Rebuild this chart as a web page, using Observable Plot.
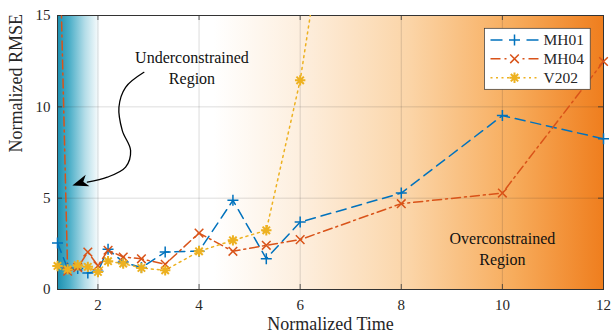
<!DOCTYPE html>
<html><head><meta charset="utf-8">
<script src="https://cdn.jsdelivr.net/npm/d3@7"></script>
<script src="https://cdn.jsdelivr.net/npm/@observablehq/plot@0.6"></script>
<style>
html,body{margin:0;padding:0;background:#fff;}
#chart{width:614px;height:335px;overflow:hidden;}
#chart svg, #chart svg text, #chart svg g { font-family: "Liberation Serif", "DejaVu Serif", serif !important; }
</style></head><body><div id="chart"></div>
<script>
// ---- data ----
const times = [1.2, 1.4, 1.6, 1.8, 2.0, 2.2, 2.5, 2.86, 3.33, 4, 4.67, 5.33, 6, 8, 10, 12];
const seriesNames = ["MH01", "MH04", "V202"];
const mh01 = [2.55, 1.15, 1.15, 0.9, 1.0, 2.2, 1.5, 1.2, 2.05, 2.1, 4.88, 1.69, 3.69, 5.28, 9.52, 8.25];
const mh04 = [24, 1.0, 1.2, 2.05, 1.3, 2.15, 1.78, 1.68, 1.38, 3.09, 2.09, 2.42, 2.73, 4.7, 5.28, 12.48];
const v202 = [1.29, 1.1, 1.33, 1.24, 0.96, 1.55, 1.42, 1.18, 1.05, 2.09, 2.69, 3.24, 11.45, 47];
const xTicks = [2, 4, 6, 8, 10, 12];
const yTicks = [0, 5, 10, 15];
const xDomain = [1.2, 12];
const yDomain = [0, 15];
const underRegion = [{x1: 1.2, x2: 2.05}];
const overRegion = [{x1: 4.3, x2: 12}];
const regionLabels = [
  {x: 3.86, y: 12.2, text: "Underconstrained\nRegion"},
  {x: 10.0, y: 2.3, text: "Overconstrained\nRegion"}
];
const arrowX = [2.909, 2.547, 2.415, 2.482, 2.646, 2.547, 2.186, 1.791];
const arrowY = [11.89, 11.07, 9.98, 8.70, 7.61, 6.70, 6.15, 5.88];
const arrowTip = [{x: 1.494, y: 5.70}];
const xLabel = "Normalized Time";
const yLabel = "Normalized RMSE";

// ---- styles ----
const FONT = "Liberation Serif, DejaVu Serif, serif";
const colors = ["#0072BD", "#D95319", "#EDB120"];
const dashes = ["10,6", "9,4,2,4", "2,4"];
const legendDashes = ["12,24,12", "10,4,2,16,2,4,10", "2,3.5"];
const plusSym = {draw(c) { const r = 5.5; c.moveTo(-r, 0); c.lineTo(r, 0); c.moveTo(0, -r); c.lineTo(0, r); }};
const timesSym = {draw(c) { const r = 4.3; c.moveTo(-r, -r); c.lineTo(r, r); c.moveTo(-r, r); c.lineTo(r, -r); }};
const starSym = {draw(c) { const r = 5.2, q = 3.7;
  c.moveTo(-r, 0); c.lineTo(r, 0); c.moveTo(0, -r); c.lineTo(0, r);
  c.moveTo(-q, -q); c.lineTo(q, q); c.moveTo(-q, q); c.lineTo(q, -q); }};
const stealthSym = {draw(c) { c.moveTo(0, 0); c.lineTo(6, 16); c.lineTo(0, 11.5); c.lineTo(-6, 16); c.closePath(); }};
const symbols = [plusSym, timesSym, starSym];
const symWidths = [1.5, 1.5, 2];

const valueLists = [mh01, mh04, v202];
const series = seriesNames.map((name, i) => ({
  name, color: colors[i], dash: dashes[i], ldash: legendDashes[i], symbol: symbols[i], sw: symWidths[i],
  rows: valueLists[i].map((v, j) => ({t: times[j], v}))
}));
const arrowPts = arrowX.map((x, i) => ({x, y: arrowY[i]}));

function legendMark(index, scales, values, dims) {
  const x0 = dims.width - dims.marginRight - 118.5;
  const y0 = dims.marginTop + 13.3;
  const g = d3.create("svg:g").attr("font-family", FONT).attr("font-size", 15.5).attr("text-anchor", "start");
  g.append("rect").attr("x", x0).attr("y", y0).attr("width", 105.7).attr("height", 61)
    .attr("fill", "white").attr("stroke", "#333").attr("stroke-width", 0.7);
  series.forEach((s, i) => {
    const cy = y0 + 11.7 + i * 18.85;
    g.append("line").attr("x1", x0 + 6).attr("x2", x0 + 54).attr("y1", cy).attr("y2", cy)
      .attr("stroke", s.color).attr("stroke-width", 1.5).attr("stroke-dasharray", s.ldash);
    g.append("path").attr("transform", `translate(${x0 + 30},${cy})`)
      .attr("d", d3.symbol(s.symbol)()).attr("fill", "none").attr("stroke", s.color).attr("stroke-width", s.sw);
    g.append("text").attr("x", x0 + 59).attr("y", cy).attr("dy", "0.35em")
      .attr("text-anchor", "start").attr("fill", "#262626").text(s.name);
  });
  return g.node();
}

const W = 614, H = 335;
const mL = 57, mR = 11, mT = 15, mB = 46;
const plotW = W - mL - mR, plotH = H - mT - mB;

const marks = [
  Plot.rect(underRegion, {x1: "x1", x2: "x2", y1: () => yDomain[0], y2: () => yDomain[1], fill: "url(#gradUnder)"}),
  Plot.rect(overRegion, {x1: "x1", x2: "x2", y1: () => yDomain[0], y2: () => yDomain[1], fill: "url(#gradOver)"}),
  Plot.gridX(xTicks, {stroke: "#262626", strokeOpacity: 0.2, strokeWidth: 0.8}),
  Plot.gridY(yTicks, {stroke: "#262626", strokeOpacity: 0.2, strokeWidth: 0.8}),
  Plot.tickX(xTicks, {x: d => d, insetTop: plotH - 5, stroke: "#333", strokeWidth: 0.8}),
  Plot.tickX(xTicks, {x: d => d, insetBottom: plotH - 5, stroke: "#333", strokeWidth: 0.8}),
  Plot.tickY(yTicks, {y: d => d, insetRight: plotW - 5, stroke: "#333", strokeWidth: 0.8}),
  Plot.tickY(yTicks, {y: d => d, insetLeft: plotW - 5, stroke: "#333", strokeWidth: 0.8}),
  Plot.axisX(xTicks, {tickSize: 0, tickPadding: 10, fontSize: 15, label: null, fill: "#262626"}),
  Plot.axisY(yTicks, {tickSize: 0, tickPadding: 7, fontSize: 15, label: null, fill: "#262626"}),
  Plot.text([xLabel], {text: d => d, frameAnchor: "bottom", dy: 40, fontSize: 18, fill: "#262626"}),
  Plot.text([yLabel], {text: d => d, frameAnchor: "left", dx: -41, rotate: -90, fontSize: 18, fill: "#262626"}),
  Plot.frame({stroke: "#333", strokeWidth: 1}),
  ...series.map(s => Plot.line(s.rows, {x: "t", y: "v", stroke: s.color, strokeWidth: 1.5, strokeDasharray: s.dash, clip: true})),
  ...series.map(s => Plot.dot(s.rows.filter(d => d.v <= yDomain[1]), {x: "t", y: "v", symbol: s.symbol, stroke: s.color, strokeWidth: s.sw, fill: "none"})),
  Plot.text(regionLabels, {x: "x", y: "y", text: "text", fontSize: 16, lineHeight: 1.31, fill: "#111"}),
  Plot.line(arrowPts, {x: "x", y: "y", curve: "catmull-rom", stroke: "#000", strokeWidth: 1.3}),
  Plot.dot(arrowTip, {x: "x", y: "y", symbol: stealthSym, fill: "#000", stroke: "none", rotate: -108}),
  legendMark
];

const chart = Plot.plot({
  width: W, height: H,
  marginLeft: mL, marginRight: mR, marginTop: mT, marginBottom: mB,
  x: {domain: xDomain},
  y: {domain: yDomain},
  style: {fontFamily: FONT, fontSize: "15px", background: "white", color: "#262626"},
  marks
});
chart.setAttribute("font-family", FONT);

const defs = d3.select(chart).insert("defs", ":first-child");
const gu = defs.append("linearGradient").attr("id", "gradUnder").attr("x1", 0).attr("x2", 1).attr("y1", 0).attr("y2", 0);
[[0, "#1a8fb0"], [0.3, "#4fb0c9"], [0.65, "#b4dde8"], [1, "#ffffff"]].forEach(([o, c]) =>
  gu.append("stop").attr("offset", o).attr("stop-color", c));
const go = defs.append("linearGradient").attr("id", "gradOver").attr("x1", 0).attr("x2", 1).attr("y1", 0).attr("y2", 0);
[[0, "#ffffff"], [0.23, "#fdeedd"], [0.5, "#fbd5a8"], [0.77, "#f7ac5c"], [1, "#ef7e1e"]].forEach(([o, c]) =>
  go.append("stop").attr("offset", o).attr("stop-color", c));

document.getElementById("chart").appendChild(chart);
</script>
</body></html>
